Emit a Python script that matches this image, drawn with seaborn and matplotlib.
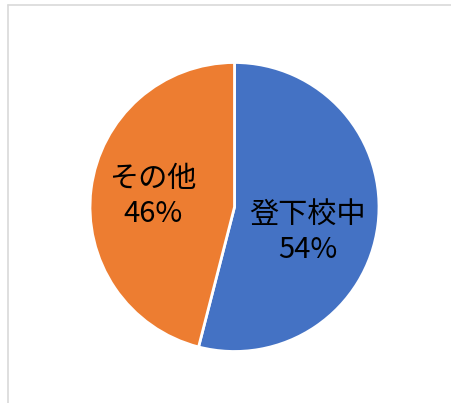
"""
Pie chart: share of incidents during commute to/from school
"""

import matplotlib.pyplot as plt
import seaborn as sns
from matplotlib.lines import Line2D

categories = ["登下校中", "その他"]
shares = [54, 46]
colors = ["#4472C4", "#ED7D31"]

sns.set_theme(style="white")
plt.rcParams["font.family"] = ["Noto Sans CJK JP", "DejaVu Sans"]

fig = plt.figure(figsize=(4.51, 4.03), dpi=100)
ax = fig.add_axes([90 / 451, 51 / 403, 289 / 451, 290 / 403])

wedges, texts = ax.pie(
    shares,
    labels=[f"{c}\n{v}%" for c, v in zip(categories, shares)],
    colors=sns.color_palette(colors),
    startangle=90,
    counterclock=False,
    labeldistance=0.57,
    wedgeprops={"edgecolor": "white", "linewidth": 2},
    textprops={"fontsize": 21, "color": "black", "fontweight": "normal"},
)
for t in texts:
    t.set_ha("center")
    t.set_va("center")
    t.set_multialignment("center")
    t.set_linespacing(1.2)

# Excel's best-fit placement sits the larger label a little lower/left
x0, y0 = texts[0].get_position()
texts[0].set_va("top")
texts[0].set_position((x0 - 0.06, y0 + 0.12))

ax.set_xlim(-1, 1)
ax.set_ylim(-1, 1)
ax.set_aspect("equal")
ax.axis("off")

# chart area border (only top and left edges visible in the crop)
fig.add_artist(Line2D([8 / 451, 8 / 451], [0, 1 - 5 / 403], color="#D9D9D9", lw=1.2))
fig.add_artist(Line2D([8 / 451, 1], [1 - 5 / 403, 1 - 5 / 403], color="#D9D9D9", lw=1.2))

fig.savefig("out.png", dpi=100)
